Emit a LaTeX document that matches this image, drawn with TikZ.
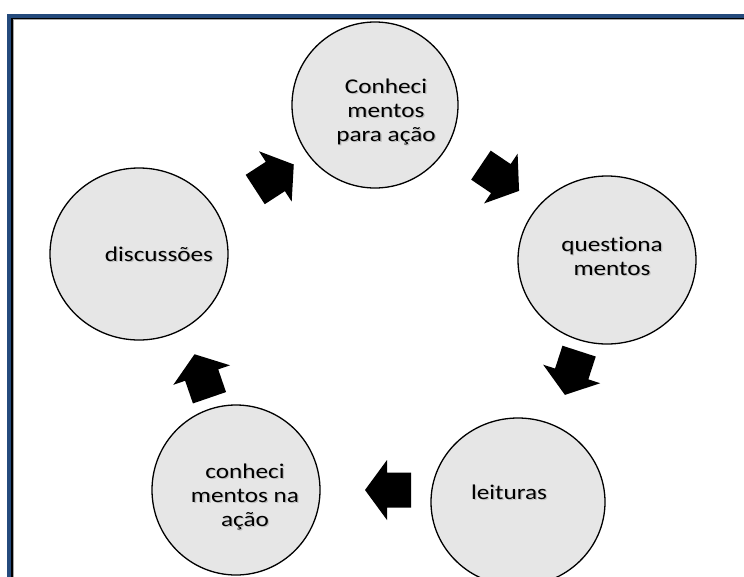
\documentclass[tikz,border=0pt]{standalone}
\usepackage{fontspec}
\setmainfont[FakeStretch=1.2,Ligatures=NoCommon]{Carlito}
\definecolor{frameblue}{RGB}{36,74,124}
\definecolor{circfill}{RGB}{230,230,230}
\tikzset{
  cyc/.style={ellipse, draw=black, line width=1.3pt, fill=circfill, inner sep=0pt},
  lbl/.style={align=center, inner sep=0pt, font=\fontsize{21}{24}\selectfont, text=black},
  lblshadow/.style={lbl, text=black!25},
  blockarrow/.pic={\fill[black] (-23,-17.5) -- (1,-17.5) -- (1,-30) -- (23,0) -- (1,30) -- (1,17.5) -- (-23,17.5) -- cycle;}
}
\usetikzlibrary{shapes.geometric}
\newcommand\cyclabel[3]{%
  \node[lblshadow] at ([shift={(1.3,1.3)}]#1) {#3};
  \node[lbl] (#2) at (#1) {#3};}
\begin{document}
\begin{tikzpicture}[x=1pt,y=-1pt]
\useasboundingbox (0,0) rectangle (744,576);
\clip (0,0) rectangle (744,576);
\fill[white] (0,0) rectangle (744,576);
% frame
\draw[frameblue, line width=3.8pt] (9.2,600) -- (9.2,16) -- (760,16);
\draw[black, line width=1.4pt] (11.9,600) -- (11.9,18.6) -- (760,18.6);
\draw[black!35, line width=0.7pt] (13.1,600) -- (13.1,19.6) -- (760,19.6);
% circles
\node[cyc, minimum width=166pt, minimum height=166pt] (top) at (375,105) {};
\node[cyc, minimum width=178pt, minimum height=168pt] (right) at (607,260) {};
\node[cyc, minimum width=174pt, minimum height=168pt] (leit) at (518,502) {};
\node[cyc, minimum width=168pt, minimum height=170pt] (cna) at (236,490) {};
\node[cyc, minimum width=178pt, minimum height=172pt] (disc) at (139,254) {};
% labels
\cyclabel{386,112}{topt}{Conheci\\mentos\\para ação}
\cyclabel{612,256}{rightt}{questiona\\mentos}
\cyclabel{159,254}{disct}{discussões}
\cyclabel{245,497}{cnat}{conheci\\mentos na\\ação}
\cyclabel{509,492}{leitt}{leituras}
% block arrows
\coordinate (a1) at (274.5,177);
\coordinate (a2) at (500,178);
\coordinate (a3) at (572,373);
\coordinate (a4) at (388,490);
\coordinate (a5) at (202,376);
\pic[rotate=33] at (a1) {blockarrow};
\pic[rotate=-34] at (a2) {blockarrow};
\pic[rotate=-108] at (a3) {blockarrow};
\pic[rotate=180] at (a4) {blockarrow};
\pic[rotate=109] at (a5) {blockarrow};
\end{tikzpicture}
\end{document}
